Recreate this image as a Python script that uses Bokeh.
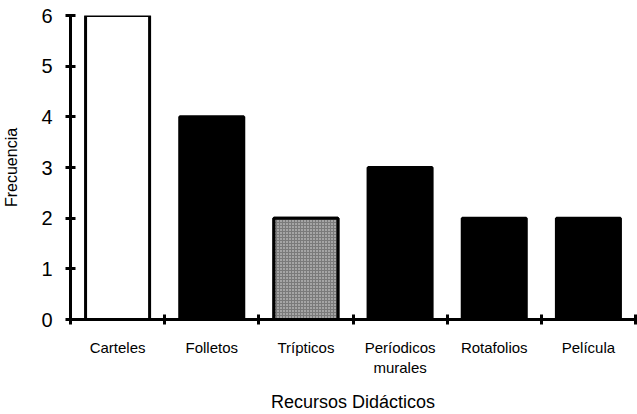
from bokeh.plotting import figure
from bokeh.models import FixedTicker, Range1d, ColumnDataSource
from bokeh.embed import file_html
from bokeh.resources import INLINE

# Data
recursos = ["Carteles", "Folletos", "Trípticos", "Períodicos\nmurales", "Rotafolios", "Película"]
frecuencia = [6, 4, 2, 3, 2, 2]
rellenos = ["white", "black", "#7a7a7a", "black", "black", "black"]
y_ticks = [0, 1, 2, 3, 4, 5, 6]

centros = [i + 0.5 for i in range(len(recursos))]
bordes = list(range(len(recursos) + 1))

FONT = "Liberation Sans"

p = figure(width=637, height=414, output_backend="svg", toolbar_location=None,
           x_range=Range1d(0, len(recursos)), y_range=Range1d(0, 6),
           min_border_left=5, min_border_right=2, min_border_top=15, min_border_bottom=5)
p.outline_line_color = None
p.xgrid.grid_line_color = None
p.ygrid.grid_line_color = None

src = ColumnDataSource(dict(x=centros, top=frecuencia, fill=rellenos))
p.vbar(x="x", top="top", bottom=0, width=0.68, source=src,
       fill_color="fill", line_color="black", line_width=3)

# grainy texture on the grey bar
tri = ColumnDataSource(dict(x=[centros[2]], top=[frecuencia[2]]))
p.vbar(x="x", top="top", bottom=0, width=0.68, source=tri,
       fill_color="#7a7a7a", line_color="black", line_width=3,
       hatch_pattern="dot", hatch_color="white", hatch_scale=3, hatch_alpha=0.8)

# x axis: labels at bar centres, short ticks at category boundaries
xa = p.xaxis[0]
xa.ticker = FixedTicker(ticks=centros, minor_ticks=bordes)
xa.major_label_overrides = {c: r for c, r in zip(centros, recursos)}
xa.major_tick_line_color = None
xa.major_tick_out = 0
xa.major_tick_in = 0
xa.minor_tick_line_color = "black"
xa.minor_tick_line_width = 3
xa.minor_tick_in = 5
xa.minor_tick_out = 5
xa.axis_line_width = 3
xa.major_label_standoff = 14
xa.major_label_text_font = FONT
xa.major_label_text_font_size = "15px"
xa.major_label_text_color = "black"
xa.axis_label = "Recursos Didácticos"
xa.axis_label_text_font = FONT
xa.axis_label_text_font_style = "normal"
xa.axis_label_text_font_size = "18px"
xa.axis_label_text_color = "black"
xa.axis_label_standoff = 13

# y axis: ticks crossing the line
ya = p.yaxis[0]
ya.ticker = FixedTicker(ticks=y_ticks, minor_ticks=[])
ya.axis_line_width = 3
ya.major_tick_line_width = 3
ya.major_tick_in = 5
ya.major_tick_out = 5
ya.major_label_standoff = 13
ya.major_label_text_font = FONT
ya.major_label_text_font_size = "20px"
ya.major_label_text_color = "black"
ya.axis_label = "Frecuencia"
ya.axis_label_text_font = FONT
ya.axis_label_text_font_style = "normal"
ya.axis_label_text_font_size = "16px"
ya.axis_label_text_color = "black"
ya.axis_label_standoff = 18

open("out.html", "w").write(file_html(p, INLINE))
